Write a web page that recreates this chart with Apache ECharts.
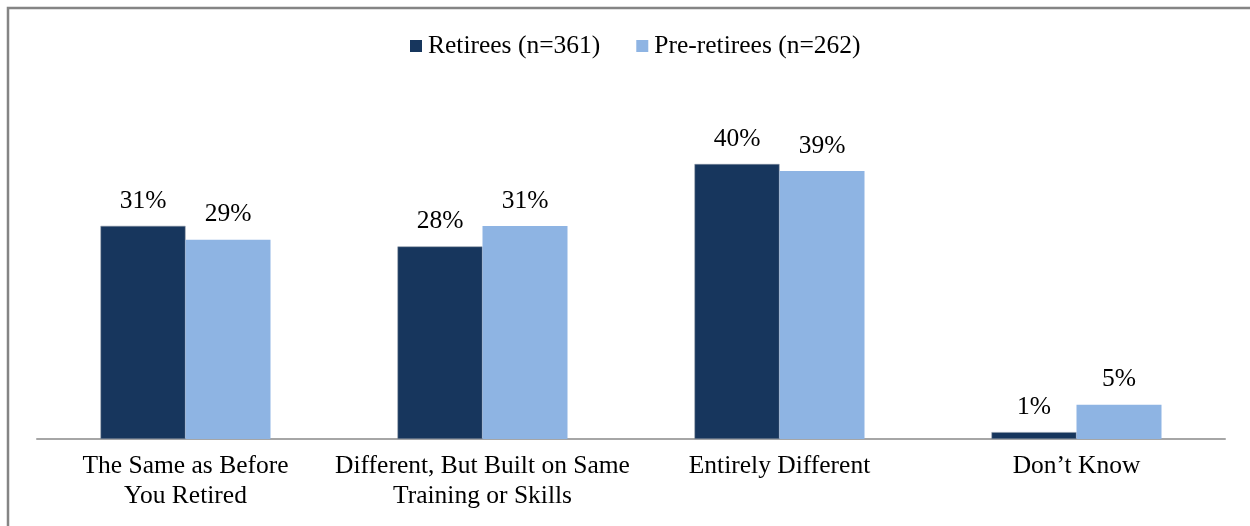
<!DOCTYPE html>
<html><head><meta charset="utf-8">
<script src="https://cdn.jsdelivr.net/npm/echarts@6/dist/echarts.min.js"></script>
<style>html,body{margin:0;padding:0;background:#fff}#c{width:1250px;height:526px}</style>
</head><body><div id="c"></div>
<script>
const categories = ["The Same as Before\nYou Retired", "Different, But Built on Same\nTraining or Skills", "Entirely Different", "Don’t Know"];
const retirees = [31, 28, 40, 1];
const preRetirees = [29, 31, 39, 5];
const seriesNames = ["Retirees (n=361)", "Pre-retirees (n=262)"];

const chart = echarts.init(document.getElementById('c'));
const font = "'Liberation Serif', 'Times New Roman', serif";
chart.setOption({
  animation: false,
  textStyle: {fontFamily: font},
  graphic: [{type: 'rect', shape: {x: 8, y: 8, width: 1300, height: 600}, style: {fill: 'none', stroke: '#858585', lineWidth: 2.5}}],
  legend: {
    top: 28, left: 405, itemWidth: 12, itemHeight: 12, itemGap: 36,
    icon: 'rect',
    itemStyle: {borderWidth: 0},
    textStyle: {fontSize: 25.5, fontFamily: font, color: '#000', padding: [0, 0, 0, 1]},
    data: seriesNames
  },
  grid: {left: 37, right: 25, top: 164, bottom: 87},
  xAxis: {
    type: 'category', data: categories,
    axisLine: {lineStyle: {color: '#A6A6A6', width: 2}},
    axisTick: {show: false},
    axisLabel: {fontSize: 25.5, fontFamily: font, color: '#000', lineHeight: 30, margin: 12, interval: 0}
  },
  yAxis: {type: 'value', min: 0, max: 40, show: false, splitLine: {show: false}},
  series: [
    {name: seriesNames[0], type: 'bar', data: retirees, barWidth: 85, barGap: '0%',
     itemStyle: {color: '#17365D', borderColor: '#8a94a3', borderWidth: 0.5},
     label: {show: true, position: 'top', distance: 12, formatter: '{c}%', fontSize: 25.5, fontFamily: font, color: '#000'}},
    {name: seriesNames[1], type: 'bar', data: preRetirees, barWidth: 85,
     itemStyle: {color: '#8EB4E3'},
     label: {show: true, position: 'top', distance: 12, formatter: '{c}%', fontSize: 25.5, fontFamily: font, color: '#000'}}
  ]
});
</script></body></html>
